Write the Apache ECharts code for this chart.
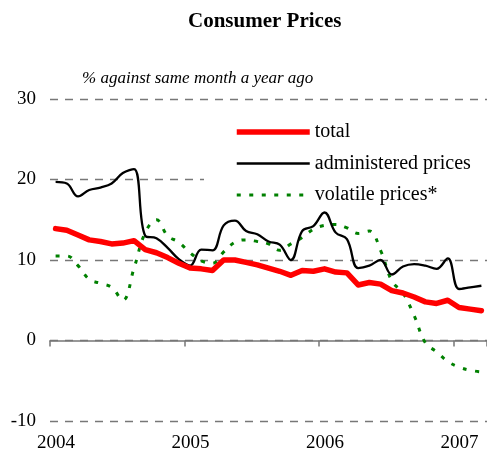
<!DOCTYPE html>
<html>
<head>
<meta charset="utf-8">
<script src="https://cdn.jsdelivr.net/npm/echarts@6/dist/echarts.min.js"></script>
<style>
html,body{margin:0;padding:0;background:#fff;}
#chart{width:487px;height:455px;}
</style>
</head>
<body>
<div id="chart"></div>
<script>
// Monthly data, Jan 2004 .. Mar 2007 (index 0 = Jan 2004)
var yearLabels = ['2004', '2005', '2006', '2007'];
var yTicks = [-10, 0, 10, 20, 30];
var seriesNames = ['total', 'administered prices', 'volatile prices*'];
var total = [13.9, 13.7, 13.1, 12.5, 12.3, 12.0, 12.1, 12.4, 11.3, 10.9, 10.3, 9.6,
             9.0, 8.9, 8.7, 10.0, 10.0, 9.7, 9.4, 9.0, 8.6, 8.1, 8.7, 8.6,
             8.9, 8.5, 8.4, 6.9, 7.2, 7.0, 6.2, 5.9, 5.4, 4.8, 4.6, 5.0,
             4.1, 3.9, 3.7];
var administered = [19.7, 19.5, 17.9, 18.7, 19.0, 19.5, 20.8, 21.3, 13.0, 12.7, 11.5, 10.1,
                    9.3, 11.3, 11.2, 14.3, 14.9, 13.6, 13.2, 12.3, 11.9, 10.0, 13.6, 14.2,
                    15.9, 13.4, 12.6, 9.0, 9.3, 10.0, 8.2, 9.2, 9.5, 9.3, 8.9, 10.2,
                    6.4, 6.6, 6.8];
var volatile = [10.5, 10.5, 9.3, 7.6, 7.1, 6.6, 5.0, 9.0, 13.4, 15.0, 13.0, 12.2,
                10.9, 9.9, 9.6, 11.0, 12.2, 12.5, 12.3, 12.0, 11.2, 12.0, 12.8, 13.8,
                14.3, 14.4, 14.0, 13.3, 13.6, 11.2, 7.4, 5.9, 3.1, -0.3, -1.4, -2.6,
                -3.3, -3.7, -3.9];

function toPoints(arr) {
  return arr.map(function (v, i) { return [i + 0.5, v]; });
}

var FONT = 'Liberation Serif';
var styles = [
  {color: '#ff0000', width: 5.5, type: 'solid'},
  {color: '#000000', width: 2.3, type: 'solid'},
  {color: '#008000', width: 3, type: [4, 8.5]}
];
var chart = echarts.init(document.getElementById('chart'), null, {renderer: 'canvas'});
chart.setOption({
  backgroundColor: '#ffffff',
  animation: false,
  title: [
    {text: 'Consumer Prices', left: 188, top: 11, padding: 0,
     textStyle: {fontFamily: FONT, fontSize: 21, fontWeight: 'bold', color: '#000'}},
    {text: '% against same month a year ago', left: 82, top: 70, padding: 0,
     textStyle: {fontFamily: FONT, fontSize: 17, fontStyle: 'italic', fontWeight: 'normal', color: '#000'}}
  ],
  grid: {left: 50, right: 0, top: 99, bottom: 34, containLabel: false},
  legend: {
    orient: 'vertical', left: 204, top: 117,
    padding: [5, 40, 2, 30],
    backgroundColor: '#ffffff',
    itemWidth: 73, itemHeight: 14, itemGap: 11.5,
    itemStyle: {opacity: 0},
    textStyle: {fontFamily: FONT, fontSize: 20, color: '#000'},
    data: seriesNames.map(function (n, i) {
      return {name: n, lineStyle: {color: styles[i].color, width: styles[i].width, type: styles[i].type, cap: 'butt'}};
    })
  },
  xAxis: [
    {type: 'value', min: 0, max: 39, interval: 12, position: 'bottom',
     axisLine: {show: false, onZero: false}, axisTick: {show: false}, splitLine: {show: false},
     axisLabel: {fontFamily: FONT, fontSize: 19, color: '#000', margin: 13, padding: [0, 0, 0, 12],
                 formatter: function (v) { return yearLabels[Math.round(v / 12)] || ''; }}},
    {type: 'value', min: 0, max: 39, interval: 12, position: 'bottom',
     axisLine: {show: true, onZero: true, lineStyle: {color: '#777', width: 1.5}},
     axisTick: {show: true, length: 6, inside: false, lineStyle: {color: '#777', width: 1.5}},
     axisLabel: {show: false}, splitLine: {show: false}}
  ],
  yAxis: {
    type: 'value', min: -10, max: 30, interval: 10,
    axisLine: {show: false}, axisTick: {show: false},
    axisLabel: {fontFamily: FONT, fontSize: 19, color: '#000', margin: 14,
                formatter: function (v) { return yTicks.indexOf(v) >= 0 ? String(v) : ''; }},
    splitLine: {show: true, lineStyle: {color: '#777', width: 1.3, type: [8, 7]}}
  },
  series: [
    {name: seriesNames[0], type: 'line', xAxisIndex: 0, data: toPoints(total),
     symbol: 'none', smooth: false, z: 4,
     lineStyle: {color: styles[0].color, width: styles[0].width, join: 'round', cap: 'round'},
     itemStyle: {color: styles[0].color}},
    {name: seriesNames[1], type: 'line', xAxisIndex: 0, data: toPoints(administered),
     symbol: 'none', smooth: 0.4, z: 3,
     lineStyle: {color: styles[1].color, width: styles[1].width},
     itemStyle: {color: styles[1].color}},
    {name: seriesNames[2], type: 'line', xAxisIndex: 0, data: toPoints(volatile),
     symbol: 'none', smooth: 0.4, z: 2,
     lineStyle: {color: styles[2].color, width: styles[2].width, type: styles[2].type},
     itemStyle: {color: styles[2].color}}
  ]
});
</script>
</body>
</html>
